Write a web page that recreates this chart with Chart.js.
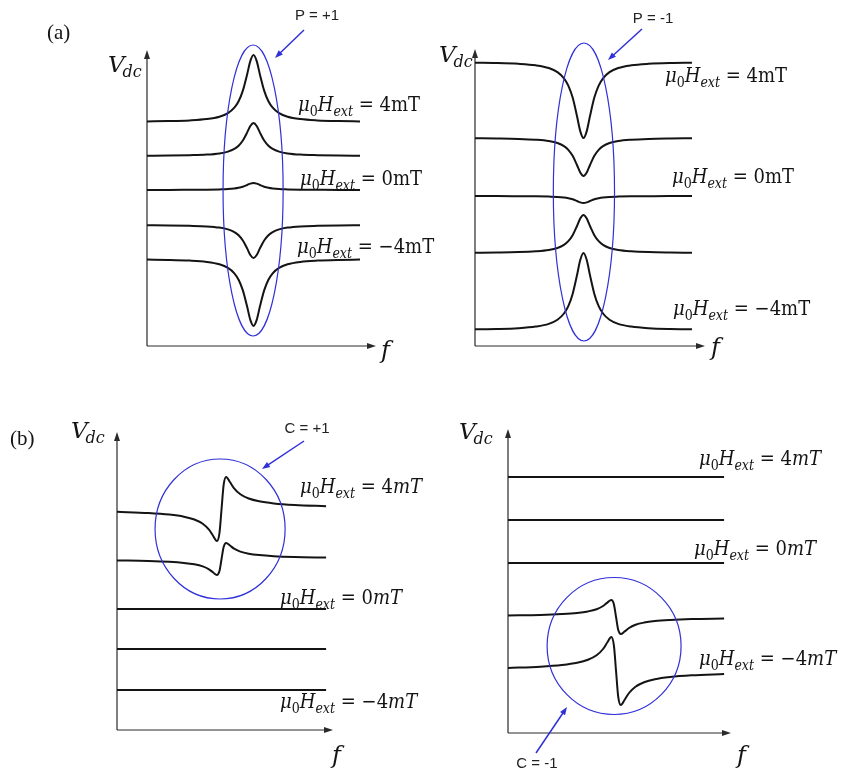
<!DOCTYPE html>
<html>
<head>
<meta charset="utf-8">
<script src="https://cdn.jsdelivr.net/npm/chart.js@4.4.1/dist/chart.umd.min.js"></script>
<style>
  html, body { margin: 0; padding: 0; background: #fff; }
  #wrap { position: relative; width: 855px; height: 774px; }
  #wrap canvas { position: absolute; left: 0; top: 0; }
</style>
</head>
<body>
<div id="wrap">
  <canvas id="pPos" width="855" height="774"></canvas>
  <canvas id="pNeg" width="855" height="774"></canvas>
  <canvas id="cPos" width="855" height="774"></canvas>
  <canvas id="cNeg" width="855" height="774"></canvas>
</div>
<script>
// ---- sweep samples (0..100 = frequency window, resonance at 50) ----
const fPeak = [0, 10, 20, 28, 34, 38, 41, 43, 45, 47, 48.5, 50, 51.5, 53, 55, 57, 59, 62, 66, 72, 80, 90, 100];
const fDisp = [0, 15, 25, 32, 37, 41, 44, 46, 47.8, 49, 50, 51, 52.2, 54, 56, 59, 63, 68, 75, 85, 100];
const fFlat = [0, 100];

// ---- (a) P = +1 : symmetric peaks, top to bottom ----
const pPos4  = [224.6, 224.9, 225.6, 226.9, 229.3, 232.9, 238.3, 244.8, 255.4, 271.6, 284.9, 291, 284.9, 271.6, 255.4, 244.8, 238.3, 232.9, 229.3, 226.9, 225.6, 224.9, 224.6];
const pPos2  = [190.3, 190.4, 190.8, 191.4, 192.6, 194.4, 197.1, 200.3, 205.5, 213.4, 220, 223, 220, 213.4, 205.5, 200.3, 197.1, 194.4, 192.6, 191.4, 190.8, 190.4, 190.3];
const pPos0  = [156.1, 156.1, 156.2, 156.3, 156.6, 156.9, 157.5, 158.2, 159.3, 161, 162.4, 163, 162.4, 161, 159.3, 158.2, 157.5, 156.9, 156.6, 156.3, 156.2, 156.1, 156.1];
const pPosM2 = [120.7, 120.6, 120.2, 119.6, 118.4, 116.6, 113.9, 110.7, 105.5, 97.6, 91, 88, 91, 97.6, 105.5, 110.7, 113.9, 116.6, 118.4, 119.6, 120.2, 120.6, 120.7];
const pPosM4 = [86.4, 86.1, 85.4, 84.1, 81.7, 78.1, 72.7, 66.2, 55.6, 39.4, 26.1, 20, 26.1, 39.4, 55.6, 66.2, 72.7, 78.1, 81.7, 84.1, 85.4, 86.1, 86.4];

// ---- (a) P = -1 ----
const pNeg4  = [283.3, 283, 282.2, 280.7, 278, 273.9, 267.7, 260.4, 248.4, 230, 214.9, 208, 214.9, 230, 248.4, 260.4, 267.7, 273.9, 278, 280.7, 282.2, 283, 283.3];
const pNeg2  = [207.7, 207.5, 207.1, 206.3, 205, 203, 199.9, 196.2, 190.2, 181, 173.5, 170, 173.5, 181, 190.2, 196.2, 199.9, 203, 205, 206.3, 207.1, 207.5, 207.7];
const pNeg0  = [149.9, 149.9, 149.8, 149.7, 149.4, 149.1, 148.5, 147.8, 146.7, 145, 143.6, 143, 143.6, 145, 146.7, 147.8, 148.5, 149.1, 149.4, 149.7, 149.8, 149.9, 149.9];
const pNegM2 = [93.3, 93.5, 93.9, 94.7, 96, 98, 101.1, 104.8, 110.8, 120, 127.5, 131, 127.5, 120, 110.8, 104.8, 101.1, 98, 96, 94.7, 93.9, 93.5, 93.3];
const pNegM4 = [16.7, 17, 17.8, 19.4, 22.1, 26.2, 32.5, 39.9, 52.1, 70.7, 86, 93, 86, 70.7, 52.1, 39.9, 32.5, 26.2, 22.1, 19.4, 17.8, 17, 16.7];

// ---- (b) C = +1 : antisymmetric lines for positive field ----
const cPos4  = [218.2, 217, 215.4, 213.3, 210.5, 206.2, 200.3, 194, 189, 196.9, 221, 245.1, 253, 248, 241.7, 235.8, 231.5, 228.7, 226.6, 225, 223.8];
const cPos2  = [169.6, 169, 168.2, 167.1, 165.7, 163.6, 160.7, 157.5, 155, 159, 171, 183, 187, 184.5, 181.3, 178.4, 176.3, 174.9, 173.8, 173, 172.4];
const cPos0  = [121, 121];
const cPosM2 = [81, 81];
const cPosM4 = [40, 40];

// ---- (b) C = -1 ----
const cNeg4  = [256, 256];
const cNeg2  = [213, 213];
const cNeg0  = [170, 170];
const cNegM2 = [117.5, 118.1, 119, 120.1, 121.6, 123.8, 127, 130.4, 133, 128.8, 116, 103.2, 99, 101.6, 105, 108.2, 110.4, 111.9, 113, 113.9, 114.5];
const cNegM4 = [65, 66.3, 68, 70.2, 73.2, 77.7, 84, 90.7, 96, 87.6, 62, 36.4, 28, 33.3, 40, 46.3, 50.8, 53.8, 56, 57.7, 59];

const SERIF = '"DejaVu Serif", serif';
const INK = '#141414';
const BLUE = '#3030d8';

function arrowHead(ctx, x, y, dx, dy, len, half) {
  const px = -dy, py = dx;
  ctx.beginPath();
  ctx.moveTo(x, y);
  ctx.lineTo(x - dx * len + px * half, y - dy * len + py * half);
  ctx.lineTo(x - dx * len - px * half, y - dy * len - py * half);
  ctx.closePath();
  ctx.fill();
}

function pointer(ctx, x1, y1, x2, y2) {
  const L = Math.hypot(x2 - x1, y2 - y1), dx = (x2 - x1) / L, dy = (y2 - y1) / L;
  ctx.save();
  ctx.strokeStyle = BLUE; ctx.fillStyle = BLUE; ctx.lineWidth = 1.5;
  ctx.beginPath(); ctx.moveTo(x1, y1); ctx.lineTo(x2 - dx * 6, y2 - dy * 6); ctx.stroke();
  arrowHead(ctx, x2, y2, dx, dy, 8, 3);
  ctx.restore();
}

// μ0 H_ext = value mT, drawn piece by piece (slightly narrowed serif)
function fieldLabel(ctx, x, y, val, italicUnit, size) {
  const squeeze = 0.9;
  const sub = Math.round(size * 0.7);
  let cx = 0;
  ctx.save();
  ctx.translate(x, y);
  ctx.scale(squeeze, 1);
  const put = (t, style, s, dy) => {
    ctx.font = `${style} ${s}px ${SERIF}`;
    ctx.fillText(t, cx, dy);
    cx += ctx.measureText(t).width;
  };
  put('μ', 'italic', size, 0);
  put('0', 'normal', sub, size * 0.25);
  put('H', 'italic', size, 0);
  put('ext', 'italic', sub, size * 0.25);
  put(' = ', 'normal', size, 0);
  put(val, 'normal', size, 0);
  put('mT', italicUnit ? 'italic' : 'normal', size, 0);
  ctx.restore();
}

function vdcLabel(ctx, x, y) {
  ctx.font = `italic 23px ${SERIF}`;
  ctx.fillText('V', x, y);
  const w = ctx.measureText('V').width;
  ctx.font = `italic 16px ${SERIF}`;
  ctx.fillText('dc', x + w - 2, y + 5);
}

const arrowAxes = {
  id: 'arrowAxes',
  beforeDatasetsDraw(chart) {
    const { ctx, scales: { x, y } } = chart;
    const x0 = x.getPixelForValue(0), y0 = y.getPixelForValue(0);
    const xEnd = x.getPixelForValue(x.max), yEnd = y.getPixelForValue(y.max);
    ctx.save();
    ctx.strokeStyle = '#2a2a2a'; ctx.fillStyle = '#2a2a2a'; ctx.lineWidth = 1.2;
    ctx.beginPath();
    ctx.moveTo(x0, y0); ctx.lineTo(xEnd - 6, y0);
    ctx.moveTo(x0, y0); ctx.lineTo(x0, yEnd + 6);
    ctx.stroke();
    arrowHead(ctx, xEnd, y0, 1, 0, 9, 3);
    arrowHead(ctx, x0, yEnd, 0, -1, 9, 3);
    ctx.restore();
  }
};

function overlay(p) {
  return {
    id: 'overlay',
    afterDatasetsDraw(chart) {
      const { ctx, scales: { x, y } } = chart;
      const e = p.ring;
      const cx = x.getPixelForValue(e.x), cy = y.getPixelForValue(e.y);
      const rx = x.getPixelForValue(e.x + e.rx) - cx, ry = cy - y.getPixelForValue(e.y + e.ry);
      ctx.save();
      ctx.strokeStyle = BLUE; ctx.lineWidth = 1.2;
      ctx.beginPath(); ctx.ellipse(cx, cy, rx, ry, 0, 0, Math.PI * 2); ctx.stroke();
      ctx.restore();

      pointer(ctx, ...p.pointer);
      ctx.save();
      ctx.fillStyle = '#222';
      ctx.font = '15px "Liberation Sans", Arial, sans-serif';
      ctx.textAlign = 'center'; ctx.textBaseline = 'middle';
      ctx.fillText(p.tag[0], p.tag[1], p.tag[2]);

      ctx.textAlign = 'left'; ctx.textBaseline = 'alphabetic';
      ctx.fillStyle = INK;
      p.fields.forEach(([val, lx, ly]) => fieldLabel(ctx, lx, ly, val, p.italicUnit, 20));
      vdcLabel(ctx, p.vdc[0], p.vdc[1]);
      ctx.font = `italic 24px ${SERIF}`;
      ctx.fillText('f', p.f[0], p.f[1]);
      if (p.panel) {
        ctx.font = '21px "Liberation Serif", "Times New Roman", serif';
        ctx.fillText(p.panel[0], p.panel[1], p.panel[2]);
      }
      ctx.restore();
    }
  };
}

const panels = [
  {
    id: 'pPos', area: [147, 376, 50, 346], xMax: 107.5, yMax: 296, fx: fPeak,
    series: [pPos4, pPos2, pPos0, pPosM2, pPosM4],
    ring: { x: 49.8, y: 155.5, rx: 14.1, ry: 145.5 },
    pointer: [304, 30, 275, 58], tag: ['P = +1', 317, 16],
    fields: [['4', 298, 111], ['0', 300, 185], ['\u22124', 297, 253]],
    italicUnit: false, vdc: [108, 72], f: [381, 358], panel: ['(a)', 47, 39]
  },
  {
    id: 'pNeg', area: [475, 705, 49, 346], xMax: 106, yMax: 297, fx: fPeak,
    series: [pNeg4, pNeg2, pNeg0, pNegM2, pNegM4],
    ring: { x: 50.2, y: 154, rx: 14.1, ry: 149 },
    pointer: [642, 29, 608, 60], tag: ['P = -1', 653, 19],
    fields: [['4', 665, 82], ['0', 672, 183], ['\u22124', 673, 315]],
    italicUnit: false, vdc: [439, 62], f: [711, 355]
  },
  {
    id: 'cPos', area: [117, 333, 432, 730], xMax: 103.3, yMax: 298, fx: fDisp,
    series: [cPos4, cPos2, cPos0, cPosM2, cPosM4],
    ring: { x: 49.3, y: 201, rx: 31.1, ry: 70 },
    pointer: [304, 441, 262, 469], tag: ['C = +1', 307, 429],
    fields: [['4', 300, 493], ['0', 280, 604], ['\u22124', 280, 708]],
    italicUnit: true, vdc: [71, 438], f: [332, 763], panel: ['(b)', 10, 445]
  },
  {
    id: 'cNeg', area: [508, 731, 429, 733], xMax: 103.2, yMax: 304, fx: fDisp,
    series: [cNeg4, cNeg2, cNeg0, cNegM2, cNegM4],
    ring: { x: 49.1, y: 87, rx: 31, ry: 68.5 },
    pointer: [536, 753, 567, 707], tag: ['C = -1', 537, 764],
    fields: [['4', 699, 465], ['0', 694, 555], ['\u22124', 699, 665]],
    italicUnit: true, vdc: [459, 439], f: [737, 763]
  }
];

panels.forEach(p => {
  const [l, r, t, b] = p.area;
  const datasets = p.series.map(ys => {
    const xs = ys.length === 2 ? fFlat : p.fx;
    return {
      data: xs.map((x, i) => ({ x, y: ys[i] })),
      borderColor: INK,
      borderWidth: 2,
      pointRadius: 0,
      cubicInterpolationMode: 'monotone',
      fill: false
    };
  });
  new Chart(document.getElementById(p.id), {
    type: 'line',
    data: { datasets },
    options: {
      responsive: false,
      animation: false,
      events: [],
      layout: { padding: { left: l, right: 855 - r, top: t, bottom: 774 - b } },
      scales: {
        x: { type: 'linear', min: 0, max: p.xMax, display: false },
        y: { type: 'linear', min: 0, max: p.yMax, display: false }
      },
      plugins: { legend: { display: false }, tooltip: { enabled: false } }
    },
    plugins: [arrowAxes, overlay(p)]
  });
});
</script>
</body>
</html>
